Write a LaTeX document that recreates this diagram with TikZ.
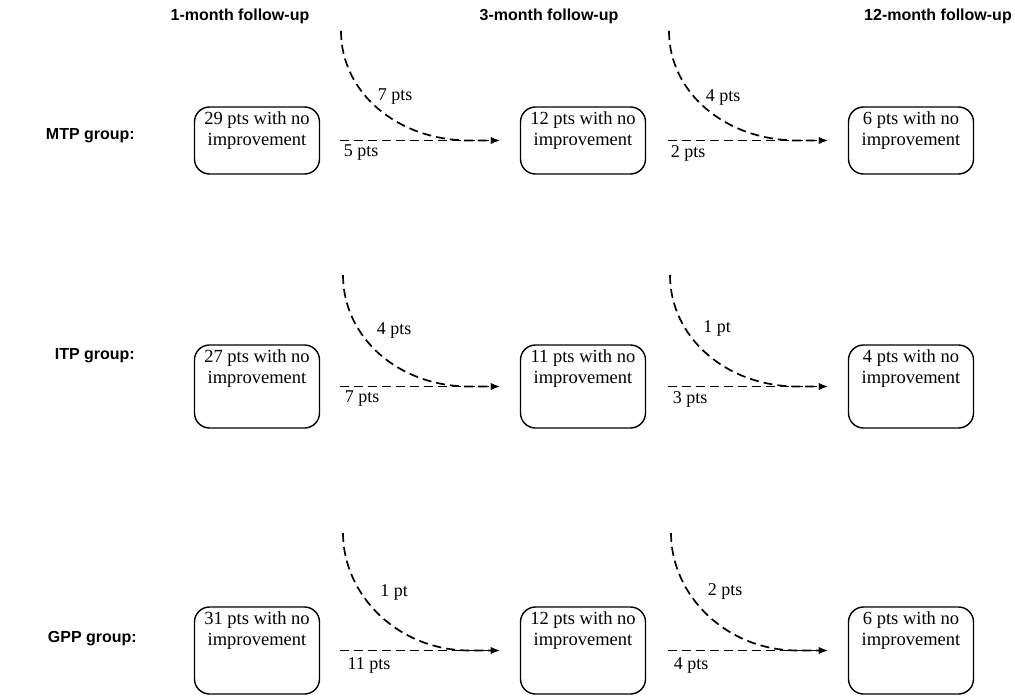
\documentclass[tikz,border=0pt]{standalone}
\usepackage{fontspec}
\setmainfont{Liberation Serif}
\newfontfamily\headfont{Liberation Sans}
\usetikzlibrary{arrows.meta,calc}

\begin{document}
\begin{tikzpicture}[x=1pt,y=-1pt,
  every node/.style={inner sep=0pt},
  head/.style={font=\headfont\bfseries\fontsize{16}{19}\selectfont},
  grp/.style={font=\headfont\bfseries\fontsize{16}{19}\selectfont, anchor=east},
  pbox/.style={draw, line width=1.4pt, rounded corners=15pt, minimum width=125pt},
  btext/.style={font=\fontsize{18.5}{21.5}\selectfont, align=center, anchor=north},
  cnt/.style={font=\fontsize{18}{21.5}\selectfont},
  flow/.style={line width=1.7pt, dash pattern=on 9pt off 5pt,
    -{Latex[length=9pt,width=7pt]}},
]
\useasboundingbox (0,0) rectangle (1015,696);

% column headings
\node[head] (h1) at (240,16) {1-month follow-up};
\node[head] (h2) at (549,16) {3-month follow-up};
\node[head] (h3) at (938,16) {12-month follow-up};

% group labels
\node[grp] (g1) at (135,136) {MTP group:};
\node[grp] (g2) at (135,356) {ITP group:};
\node[grp] (g3) at (137,639) {GPP group:};

% patient boxes
\foreach \r/\y/\h in {1/140.5/67, 2/386.5/83, 3/650.5/87}{
  \node[pbox, minimum height=\h pt] (b\r a) at (257,\y) {};
  \node[pbox, minimum height=\h pt] (b\r b) at (583,\y) {};
  \node[pbox, minimum height=\h pt] (b\r c) at (911,\y) {};
}
\node[btext] (t1a) at ([yshift=-5pt]b1a.north) {29 pts with no\\improvement};
\node[btext] (t1b) at ([yshift=-5pt]b1b.north) {12 pts with no\\improvement};
\node[btext] (t1c) at ([yshift=-5pt]b1c.north) {6 pts with no\\improvement};
\node[btext] (t2a) at ([yshift=-5pt]b2a.north) {27 pts with no\\improvement};
\node[btext] (t2b) at ([yshift=-5pt]b2b.north) {11 pts with no\\improvement};
\node[btext] (t2c) at ([yshift=-5pt]b2c.north) {4 pts with no\\improvement};
\node[btext] (t3a) at ([yshift=-5pt]b3a.north) {31 pts with no\\improvement};
\node[btext] (t3b) at ([yshift=-5pt]b3b.north) {12 pts with no\\improvement};
\node[btext] (t3c) at ([yshift=-5pt]b3c.north) {6 pts with no\\improvement};

% start points of the incoming (curved) flows
\coordinate (s1a) at (341,31);
\coordinate (s1b) at (669,31);
\coordinate (s2a) at (343,275);
\coordinate (s2b) at (670,275);
\coordinate (s3a) at (343,533);
\coordinate (s3b) at (671,533);

% flows between follow-ups
\foreach \r in {1,2,3}{
  \draw[flow] ([xshift=20pt]b\r a.east) -- ([xshift=-20pt]b\r b.west);
  \draw[flow] ([xshift=22pt]b\r b.east) -- ([xshift=-20pt]b\r c.west);
  \draw[flow] (s\r a) .. controls +(0,62) and +(-72,0) ..
    ($(b\r b.west)+(-50,0)$) -- ([xshift=-20pt]b\r b.west);
  \draw[flow] (s\r b) .. controls +(0,62) and +(-72,0) ..
    ($(b\r c.west)+(-50,0)$) -- ([xshift=-20pt]b\r c.west);
}

% flow counts
\node[cnt] (n1a) at (395,97) {7 pts};
\node[cnt] (n1b) at (361,153) {5 pts};
\node[cnt] (n1c) at (723,97) {4 pts};
\node[cnt] (n1d) at (688,153) {2 pts};
\node[cnt] (n2a) at (394,330) {4 pts};
\node[cnt] (n2b) at (362,399) {7 pts};
\node[cnt] (n2c) at (717,328) {1 pt};
\node[cnt] (n2d) at (690,399) {3 pts};
\node[cnt] (n3a) at (394,592) {1 pt};
\node[cnt] (n3b) at (369,665) {11 pts};
\node[cnt] (n3c) at (725,591) {2 pts};
\node[cnt] (n3d) at (691,665) {4 pts};
\end{tikzpicture}
\end{document}
